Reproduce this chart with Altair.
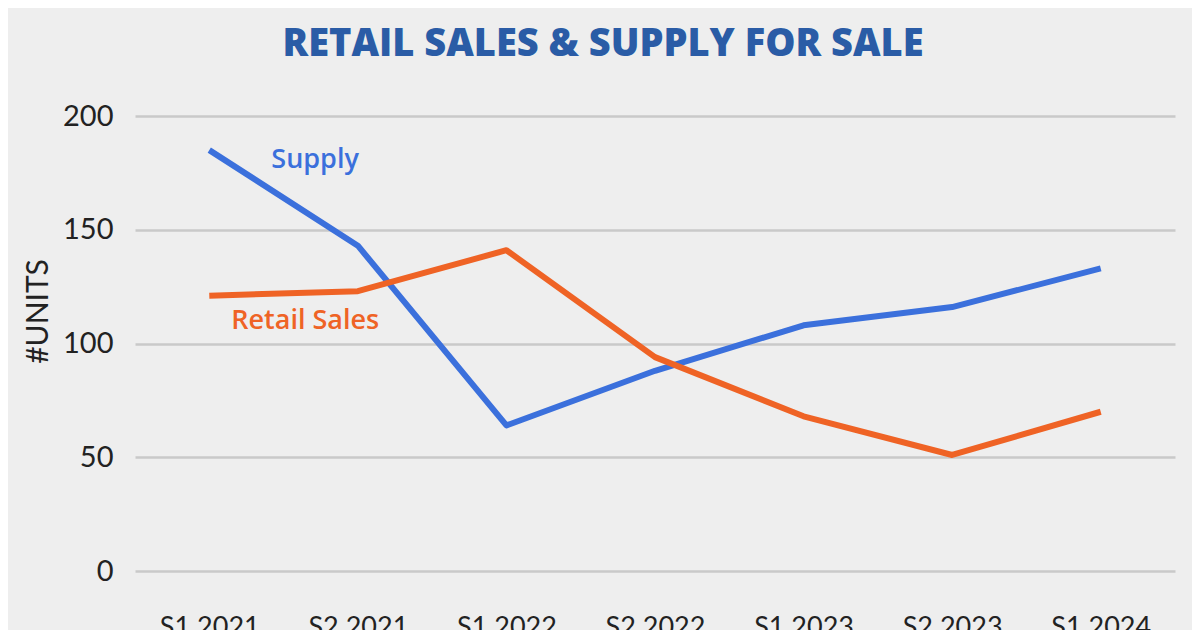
import altair as alt
import pandas as pd

periods = ["S1 2021", "S2 2021", "S1 2022", "S2 2022", "S1 2023", "S2 2023", "S1 2024"]
supply = [185, 143, 64, 88, 108, 116, 133]
retail = [121, 123, 141, 94, 68, 51, 70]

series_names = ["Supply", "Retail Sales"]
series_colors = ["#3b70dc", "#ef6325"]

rows = []
for p, s, r in zip(periods, supply, retail):
    rows.append({"period": p, "series": "Supply", "units": s})
    rows.append({"period": p, "series": "Retail Sales", "units": r})
df = pd.DataFrame(rows)

label_series = ["Supply", "Retail Sales"]
label_units = [180.5, 110]
label_df = pd.DataFrame({
    "period": ["S1 2021", "S1 2021"],
    "series": label_series,
    "units": label_units,
    "text": label_series,
})

color = alt.Color("series:N", scale=alt.Scale(domain=series_names, range=series_colors), legend=None)

x = alt.X("period:N", sort=periods, title=None,
          scale=alt.Scale(paddingOuter=0.5),
          axis=alt.Axis(labelAngle=0, labelPadding=43, ticks=False, domain=False,
                        labelFontSize=27, labelColor="#222222", labelFont="Lato", grid=False))
y = alt.Y("units:Q", title="#UNITS", scale=alt.Scale(domain=[0, 200]),
          axis=alt.Axis(values=[0, 50, 100, 150, 200], ticks=False, domain=False,
                        labelFontSize=29, labelColor="#222222", labelFont="Lato",
                        labelPadding=22, titleFontSize=30, titleFont="Lato",
                        titleFontWeight="normal", titleColor="#222222", titlePadding=9,
                        titleY=195, titleAngle=270,
                        gridColor="#c9c9c9", gridWidth=2.5))

lines = alt.Chart(df).mark_line(strokeWidth=6, strokeCap="butt", strokeJoin="round").encode(
    x=x, y=y, color=color, detail="series:N")

sup_lab = alt.Chart(label_df[label_df.series == "Supply"]).mark_text(
    align="left", baseline="middle", fontSize=27, fontWeight=600, font="Open Sans", dx=62
).encode(x=alt.X("period:N", sort=periods), y="units:Q", text="text:N", color=color)
ret_lab = alt.Chart(label_df[label_df.series == "Retail Sales"]).mark_text(
    align="left", baseline="middle", fontSize=27, fontWeight=600, font="Open Sans", dx=22
).encode(x=alt.X("period:N", sort=periods), y="units:Q", text="text:N", color=color)

chart = alt.layer(lines, sup_lab, ret_lab).properties(
    width=1040, height=455,
    title=alt.TitleParams("RETAIL SALES & SUPPLY FOR SALE", fontSize=38, font="Open Sans",
                          fontWeight=800, color="#2a5ca6", anchor="middle", dx=-52, offset=38),
    autosize=alt.AutoSizeParams(type="none"),
    padding={"left": 127, "top": 108, "right": 17, "bottom": 60},
    background="#eeeeee",
).configure_view(stroke=None)

chart.save("out.html", embed_options={"renderer": "svg", "actions": False})
